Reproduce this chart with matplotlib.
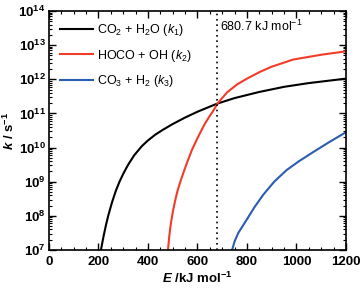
import math
import matplotlib
matplotlib.use("Agg")
import matplotlib.pyplot as plt
from matplotlib.ticker import LogLocator, MultipleLocator, FuncFormatter, NullFormatter

plt.rcParams['font.family'] = ['Liberation Sans', 'DejaVu Sans']
plt.rcParams['mathtext.fontset'] = 'custom'
plt.rcParams['mathtext.rm'] = 'Liberation Sans'
plt.rcParams['mathtext.it'] = 'Liberation Sans:italic'
plt.rcParams['mathtext.bf'] = 'Liberation Sans:bold'
plt.rcParams['mathtext.bfit'] = 'Liberation Sans:italic:bold'

# energies (kJ/mol) and log10 rate constants
e_k1 = [210, 220, 230, 240, 255, 270, 285, 300, 320, 345, 375, 400, 430, 460, 500,
        550, 600, 650, 680.7, 750, 850, 950, 1050, 1200]
logk1 = [7.0, 7.38, 7.72, 8.02, 8.4, 8.73, 9.0, 9.23, 9.5, 9.78, 10.04, 10.21, 10.38, 10.52, 10.69,
         10.88, 11.05, 11.2, 11.29, 11.45, 11.63, 11.78, 11.89, 12.02]

e_k2 = [481, 486, 492, 500, 510, 520, 530, 545, 560, 577, 595, 610, 630, 650, 664,
        680.7, 720, 760, 800, 853, 900, 987, 1100, 1200]
logk2 = [7.0, 7.4, 7.75, 8.1, 8.45, 8.75, 8.98, 9.3, 9.6, 9.92, 10.2, 10.42, 10.7, 10.93, 11.08,
         11.29, 11.62, 11.85, 12.02, 12.22, 12.37, 12.58, 12.72, 12.82]

e_k3 = [740, 750, 765, 800, 830, 866, 910, 960, 1010, 1068, 1130, 1200]
logk3 = [7.0, 7.25, 7.5, 7.9, 8.25, 8.62, 9.0, 9.34, 9.6, 9.87, 10.15, 10.45]

labels = [r'CO$_2$ + H$_2$O ($k_1$)', r'HOCO + OH ($k_2$)', r'CO$_3$ + H$_2$ ($k_3$)']
colors = ['black', '#f03c28', '#2a5cb0']
e_cross = 680.7

fig = plt.figure(figsize=(3.6, 2.91), dpi=100)
ax = fig.add_axes([0.136, 0.141, 0.825, 0.821])

for e, lk, lab, c in zip([e_k1, e_k2, e_k3], [logk1, logk2, logk3], labels, colors):
    ax.plot(e, [10 ** v for v in lk], color=c, lw=1.5, label=lab)

ax.axvline(e_cross, color='black', ls=(0, (1, 2.2)), lw=1.2)
ax.text(e_cross + 10, 10 ** 13.55, '680.7 kJ mol$^{-1}$', fontsize=9, va='center')

ax.set_yscale('log')
ax.set_xlim(0, 1200)
ax.set_ylim(1e7, 1e14)

ax.xaxis.set_major_locator(MultipleLocator(200))
ax.xaxis.set_minor_locator(MultipleLocator(50))
ax.yaxis.set_major_locator(LogLocator(base=10, numticks=20))
ax.yaxis.set_minor_locator(LogLocator(base=10, subs=range(2, 10), numticks=20))
ax.yaxis.set_major_formatter(FuncFormatter(lambda v, p: r'$\mathbf{10^{%d}}$' % round(math.log10(v))))
ax.yaxis.set_minor_formatter(NullFormatter())
ax.tick_params(which='both', direction='in', top=True, right=True, labelsize=9.5)
ax.tick_params(axis='x', pad=4)
ax.tick_params(axis='y', pad=2.5)
ax.tick_params(which='major', length=5, width=1)
ax.tick_params(which='minor', length=2.5, width=0.8)
for t in ax.get_xticklabels():
    t.set_fontweight('bold')
for s in ax.spines.values():
    s.set_linewidth(1.2)

ax.set_xlabel(r'$\mathbfit{E}$ /kJ mol$^{\mathbf{-1}}$', fontsize=9.5, fontweight='bold', labelpad=2)
ax.set_ylabel(r'$\mathbfit{k}$ / s$^{\mathbf{-1}}$', fontsize=9.5, fontweight='bold', labelpad=1)

ax.legend(loc='upper left', frameon=False, fontsize=9, handlelength=2.6,
          handletextpad=0.35, labelspacing=0.75, borderaxespad=0.5)

fig.savefig('out.png', dpi=100)
